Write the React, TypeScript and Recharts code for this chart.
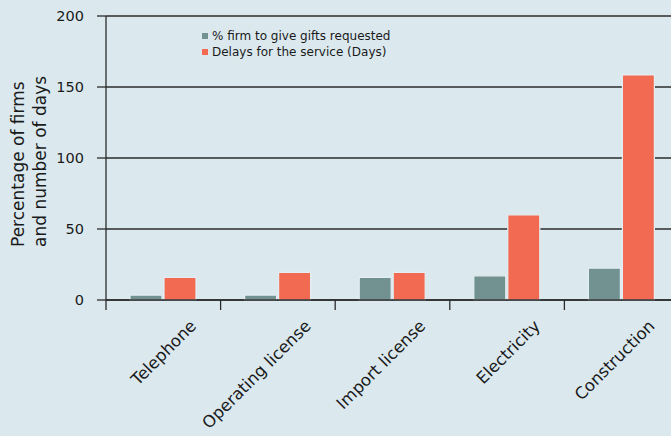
import { BarChart, Bar, XAxis, YAxis, CartesianGrid, Legend } from "recharts";

const CATEGORIES = ["Telephone", "Operating license", "Import license", "Electricity", "Construction"];
const GIFTS_PCT = [3.5, 3.5, 16, 17, 22.5];
const DELAY_DAYS = [16, 19.5, 19.5, 60, 158.5];
const Y_TICKS = [0, 50, 100, 150, 200];

const GIFTS_LABEL = "% firm to give gifts requested";
const DELAY_LABEL = "Delays for the service (Days)";

const BG = "#dbe9ef";
const GRAY = "#729191";
const ORANGE = "#f26a51";
const INK = "#2b2b2b";
const FONT = "DejaVu Sans, sans-serif";

const CHART_W = 690;
const CHART_H = 436;
const MARGIN = { top: 16, right: 11, left: 0, bottom: 0 };
const YAXIS_W = 106;
const BAND = (CHART_W - MARGIN.right - MARGIN.left - YAXIS_W) / CATEGORIES.length;

const data = CATEGORIES.map((name, i) => ({
  name,
  gifts: GIFTS_PCT[i],
  delays: DELAY_DAYS[i],
}));

// tick marks sit on category boundaries, labels are rotated under each bar pair
function CategoryTick(props: any) {
  const { x, y, payload, index } = props;
  const left = x - BAND / 2;
  const right = x + BAND / 2;
  const lx = x + 34;
  const ly = y + 27;
  return (
    <g>
      <line x1={left} y1={y} x2={left} y2={y + 10} stroke={INK} strokeWidth={1.3} />
      {index === CATEGORIES.length - 1 && (
        <line x1={right} y1={y} x2={right} y2={y + 10} stroke={INK} strokeWidth={1.3} />
      )}
      <text
        x={lx}
        y={ly}
        transform={`rotate(-45 ${lx} ${ly})`}
        textAnchor="end"
        fontSize={16.5}
        fontFamily={FONT}
        fill="#1a1a1a"
      >
        {payload.value}
      </text>
    </g>
  );
}

function AxisTitle() {
  const y = 247;
  const lines = [
    { x: 24, text: "Percentage of firms" },
    { x: 46, text: "and number of days" },
  ];
  return (
    <g>
      {lines.map((l) => (
        <text
          key={l.text}
          x={l.x}
          y={y}
          transform={`rotate(-90 ${l.x} ${y})`}
          textAnchor="start"
          fontSize={17}
          fontFamily={FONT}
          fill="#1a1a1a"
        >
          {l.text}
        </text>
      ))}
    </g>
  );
}

function LegendBox() {
  const items = [
    { label: GIFTS_LABEL, color: GRAY },
    { label: DELAY_LABEL, color: ORANGE },
  ];
  return (
    <div style={{ fontFamily: FONT, fontSize: 12, color: "#1a1a1a" }}>
      {items.map((it) => (
        <div key={it.label} style={{ display: "flex", alignItems: "center", height: 16, whiteSpace: "nowrap" }}>
          <span style={{ width: 6, height: 6, background: it.color, marginRight: 4, display: "inline-block" }} />
          {it.label}
        </div>
      ))}
    </div>
  );
}

export default function App() {
  return (
    <div
      style={{
        position: "fixed",
        left: 0,
        top: 0,
        width: 671,
        height: 436,
        overflow: "hidden",
        background: BG,
      }}
    >
      <BarChart width={CHART_W} height={CHART_H} data={data} margin={MARGIN} barSize={32} barGap={2}>
        <CartesianGrid vertical={false} stroke={INK} strokeWidth={1.3} strokeDasharray="" />
        <XAxis
          dataKey="name"
          interval={0}
          tickLine={false}
          tickSize={0}
          tickMargin={0}
          height={136}
          axisLine={{ stroke: INK, strokeWidth: 1.3 }}
          tick={<CategoryTick />}
        />
        <YAxis
          width={YAXIS_W}
          domain={[0, 200]}
          ticks={Y_TICKS}
          tickSize={9}
          tickMargin={13}
          axisLine={{ stroke: INK, strokeWidth: 1.3 }}
          tickLine={{ stroke: INK, strokeWidth: 1.3 }}
          tick={{ fontSize: 14.5, fontFamily: FONT, fill: "#1a1a1a" }}
          label={{ content: () => <AxisTitle /> }}
        />
        <Legend
          layout="vertical"
          align="center"
          verticalAlign="middle"
          content={() => <LegendBox />}
          wrapperStyle={{ top: 28, left: 202, width: "auto" }}
        />
        <Bar dataKey="gifts" name={GIFTS_LABEL} fill={GRAY} stroke="#e4eef2" strokeWidth={1.2} isAnimationActive={false} />
        <Bar dataKey="delays" name={DELAY_LABEL} fill={ORANGE} stroke="#e4eef2" strokeWidth={1.2} isAnimationActive={false} />
      </BarChart>
    </div>
  );
}
